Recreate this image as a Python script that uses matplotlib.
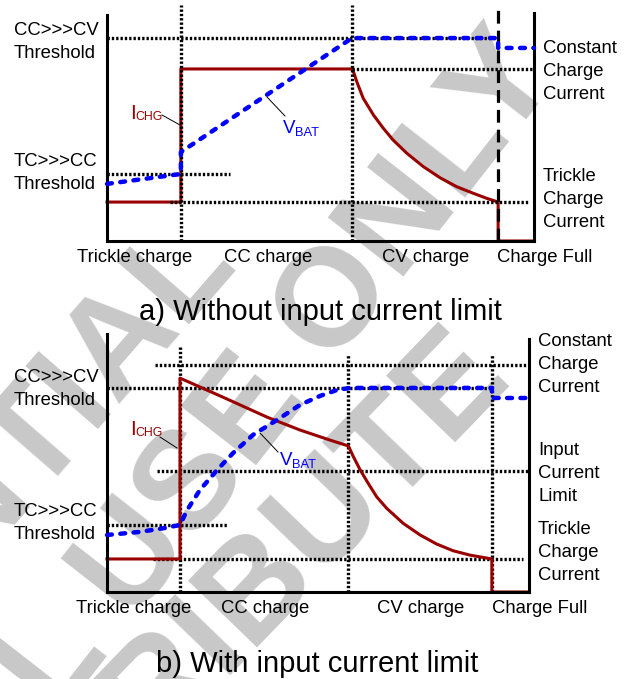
import numpy as np
import matplotlib
matplotlib.use("Agg")
import matplotlib.pyplot as plt
from matplotlib.lines import Line2D

plt.rcParams['font.family'] = ['Liberation Sans', 'DejaVu Sans']

W, H = 630, 679
RED = '#990000'
BLUE = '#0000ff'

# ---- panel a: without input current limit (time 0..100, level 0..100)
a_phase_x = [17.3, 57.4, 91.6]          # trickle->CC, CC->CV, CV->full
a_ichg_x = [0, 17.3, 17.3, 57.5, 58.5, 60.0, 62.4, 64.7, 67.0, 70.2, 74.1, 78.0, 81.9, 85.8, 88.9, 91.6, 91.6, 100]
a_ichg_y = [16.5, 16.5, 72.9, 72.9, 67.5, 60.5, 53.4, 47.8, 42.8, 37.2, 31.5, 26.8, 23.0, 20.2, 18.1, 16.5, 0, 0]
a_vbat_x = [0, 17.3, 17.3, 57.4, 91.6, 91.6, 100]
a_vbat_y = [24.2, 28.4, 37.7, 86.0, 86.0, 81.8, 81.8]
a_cv_thr, a_cc_cur, a_tc_thr, a_trickle = 86.0, 72.9, 28.4, 16.5

# ---- panel b: with input current limit
b_phase_x = [17.3, 57.1, 91.2]
b_ichg_x = [0, 17.3, 17.3, 27.9, 37.9, 45.7, 52.8, 57.2, 58.4, 60.0, 61.9, 63.9, 66.3, 70.2, 74.2, 78.1,
            82.0, 86.0, 91.2, 91.2, 100]
b_ichg_y = [12.8, 12.8, 82.9, 75.2, 67.8, 62.8, 58.9, 56.6, 52.4, 47.3, 42.1, 36.9, 32.4, 26.6, 22.1, 18.6,
            16.0, 14.3, 12.8, 0, 0]
b_vbat_x = [0, 7.8, 13.7, 17.3, 19.0, 22.0, 26.1, 29.9, 34.6, 40.3, 45.7, 50.5, 54.5, 57.6, 91.2, 91.2, 100]
b_vbat_y = [22.1, 23.3, 24.8, 26.0, 31.8, 39.5, 47.3, 53.9, 60.9, 66.7, 72.5, 76.0, 78.3, 79.1, 79.1, 75.2, 75.2]
b_cc_cur, b_cv_thr, b_ilim, b_tc_thr, b_trickle = 88.0, 79.1, 46.9, 26.0, 12.8

phase_labels = ['Trickle charge', 'CC charge', 'CV charge', 'Charge Full']

fig = plt.figure(figsize=(W / 100, H / 100), dpi=100)


def px_axes(left, top, right, bottom):
    ax = fig.add_axes([left / W, 1 - bottom / H, (right - left) / W, (bottom - top) / H])
    ax.set_xlim(0, 100)
    ax.set_ylim(0, 100)
    ax.axis('off')
    ax.patch.set_visible(False)
    return ax


def ftxt(x, y, s, **kw):
    kw.setdefault('fontsize', 13.3)
    return fig.text(x / W, 1 - y / H, s, **kw)


def block(x, y_first, s, **kw):
    # multi-line label, y_first = baseline of first line (px)
    n = s.count('\n')
    return ftxt(x, y_first + 22 * n, s, va='baseline', linespacing=1.45, **kw)


def leader(x0, y0, x1, y1):
    fig.add_artist(Line2D([x0 / W, x1 / W], [1 - y0 / H, 1 - y1 / H], color='k', lw=0.7))


dot = dict(color='k', lw=2.4, ls=(0, (0.7, 0.6)), clip_on=False)
blue_kw = dict(color=BLUE, lw=3.2, ls=(0, (1.1, 1.9)), dash_capstyle='round', clip_on=False, zorder=5)
axis_kw = dict(color='k', lw=2.2, clip_on=False, zorder=4)

# watermark
wm = dict(fontsize=100, fontweight='bold', color='#c8c8c8', ha='center', va='center',
          rotation_mode='anchor', zorder=-5)
ftxt(-129, 629, 'CONFIDENTIAL', rotation=49, **wm)
ftxt(92, 618, 'INTERNAL USE ONLY', rotation=52, **wm)
ftxt(-2, 865, 'DO NOT DISTRIBUTE', rotation=46, **wm)

# ---------------- panel a ----------------
ax = px_axes(107, 5, 534, 241)
ax.plot([0, 0], [0, 95.8], **axis_kw)
ax.plot([0, 100], [0, 0], **axis_kw)
ax.plot([100, 100], [0, 96.6], **axis_kw)
ax.plot(a_ichg_x, a_ichg_y, color=RED, lw=2.2, zorder=1, clip_on=False)
ax.plot([a_phase_x[0]] * 2, [0, 100], zorder=2, **dot)
ax.plot([a_phase_x[1]] * 2, [0, 100], zorder=2, **dot)
ax.plot([a_phase_x[2]] * 2, [0, 100], color='k', lw=2.3, ls=(0, (4, 2.2)), zorder=2, clip_on=False)
ax.plot([0, a_phase_x[2]], [a_cv_thr] * 2, zorder=2, **dot)
ax.plot([a_phase_x[1], 100], [a_cc_cur] * 2, zorder=2, **dot)
ax.plot([0, 28.8], [a_tc_thr] * 2, zorder=2, **dot)
ax.plot([14.8, 98.6], [a_trickle] * 2, zorder=2, **dot)
ax.plot(a_vbat_x, a_vbat_y, **blue_kw)

block(14, 36, 'CC>>>CV\nThreshold')
block(14, 167, 'TC>>>CC\nThreshold')
block(543, 55, 'Constant\nCharge\nCurrent')
block(543, 183, 'Trickle\nCharge\nCurrent')
for cx, s in zip([135, 268, 426, 545], phase_labels):
    ftxt(cx, 262, s, ha='center', va='baseline')
ftxt(130, 119, 'I', color=RED, fontsize=15, va='baseline')
ftxt(135, 120, 'CHG', color=RED, fontsize=8.8, va='baseline')
leader(162, 115, 180, 125)
ftxt(283, 133, 'V', color=BLUE, fontsize=13.5, va='baseline')
ftxt(295, 136, 'BAT', color=BLUE, fontsize=9.3, va='baseline')
leader(267, 97, 285, 116)
ftxt(320, 320, 'a) Without input current limit', fontsize=21, ha='center', va='baseline')

# ---------------- panel b ----------------
bx = px_axes(107, 334, 529, 592)
bx.plot([0, 0], [0, 100], **axis_kw)
bx.plot([0, 100], [0, 0], **axis_kw)
bx.plot([100, 100], [0, 98.1], **axis_kw)
bx.plot([b_phase_x[0]] * 2, [0, 95.7], zorder=2, **dot)
bx.plot([b_phase_x[1]] * 2, [0, 92.2], zorder=2, **dot)
bx.plot([b_phase_x[2]] * 2, [0, 92.2], zorder=2, **dot)
bx.plot([11.4, 100], [b_cc_cur] * 2, zorder=2, **dot)
bx.plot([0, 91.5], [b_cv_thr] * 2, zorder=2, **dot)
bx.plot([11.8, 100], [b_ilim] * 2, zorder=2, **dot)
bx.plot([0, 28.7], [b_tc_thr] * 2, zorder=2, **dot)
bx.plot([10.9, 98.6], [b_trickle] * 2, zorder=2, **dot)
bx.plot(b_ichg_x, b_ichg_y, color=RED, lw=2.2, zorder=3, clip_on=False)
bx.plot(b_vbat_x, b_vbat_y, **blue_kw)

block(14, 383, 'CC>>>CV\nThreshold')
block(14, 517, 'TC>>>CC\nThreshold')
block(538, 348, 'Constant\nCharge\nCurrent')
block(538, 457, 'Input\nCurrent\nLimit')
block(538, 536, 'Trickle\nCharge\nCurrent')
for cx, s in zip([134, 265, 421, 540], phase_labels):
    ftxt(cx, 613, s, ha='center', va='baseline')
ftxt(130, 435, 'I', color=RED, fontsize=15, va='baseline')
ftxt(135, 436, 'CHG', color=RED, fontsize=8.8, va='baseline')
leader(160, 437, 177, 448)
ftxt(280, 465, 'V', color=BLUE, fontsize=13.5, va='baseline')
ftxt(292, 468, 'BAT', color=BLUE, fontsize=9.3, va='baseline')
leader(260, 433, 278, 452)
ftxt(317, 672, 'b) With input current limit', fontsize=21, ha='center', va='baseline')

fig.savefig('out.png', dpi=100)
